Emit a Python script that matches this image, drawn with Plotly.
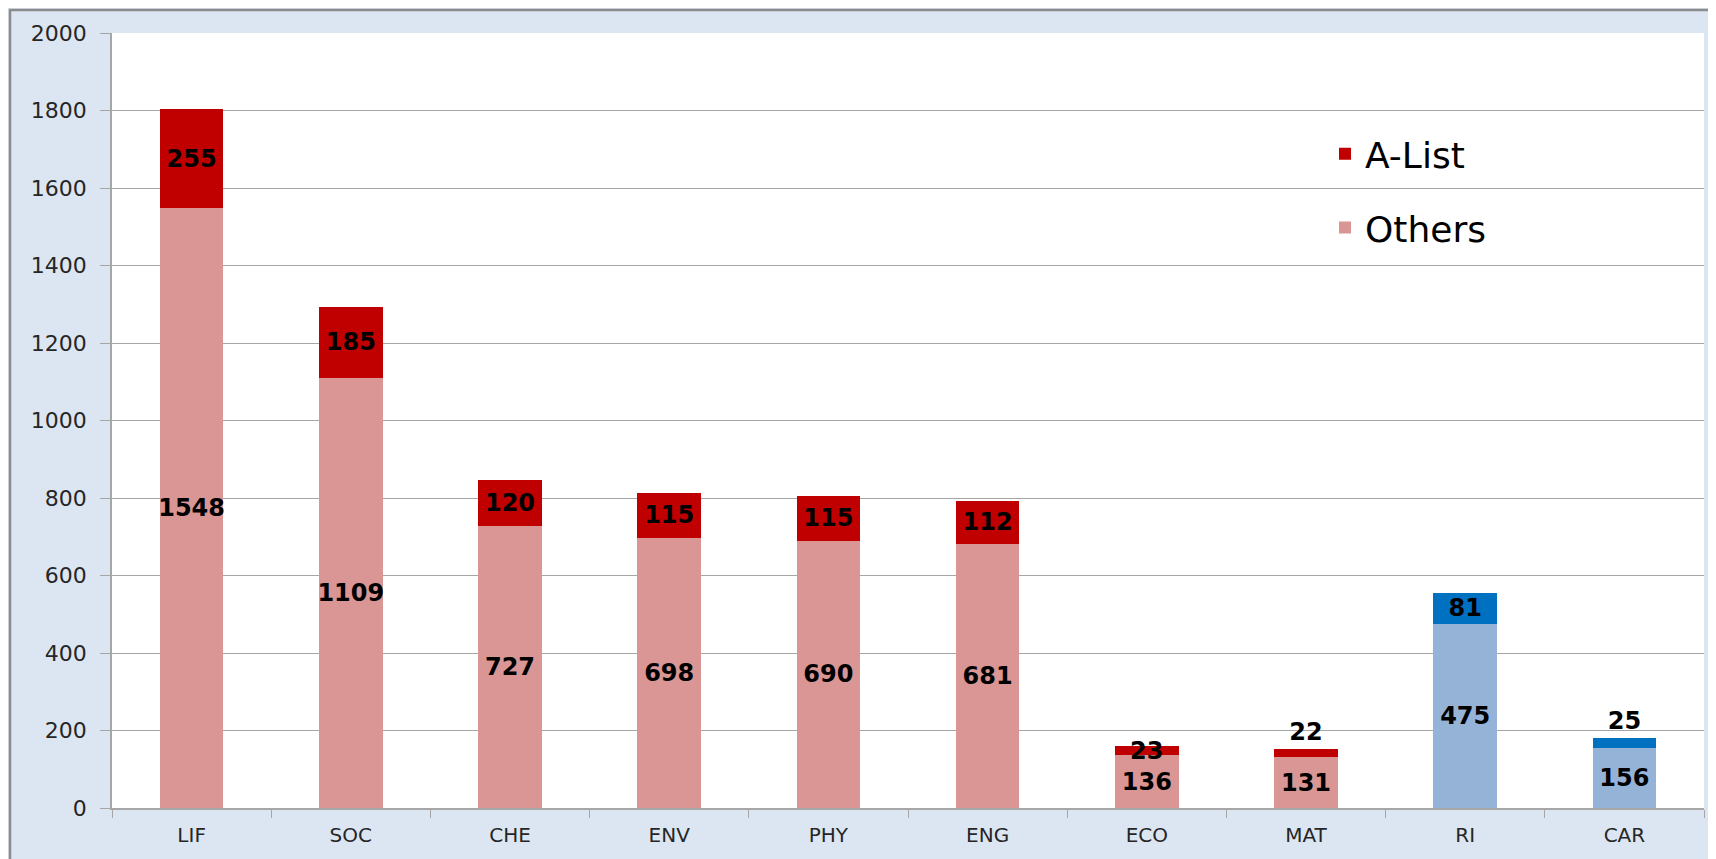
import plotly.graph_objects as go

# categories and the two stacked series
categories = ["LIF", "SOC", "CHE", "ENV", "PHY", "ENG", "ECO", "MAT", "RI", "CAR"]
others = [1548, 1109, 727, 698, 690, 681, 136, 131, 475, 156]
a_list = [255, 185, 120, 115, 115, 112, 23, 22, 81, 25]

# styling: the last two categories are drawn in blue instead of red
RED, PINK = "#C00000", "#D99694"
BLUE, LIGHT_BLUE = "#0070C0", "#95B3D7"
others_colors = [PINK] * 8 + [LIGHT_BLUE] * 2
alist_colors = [RED] * 8 + [BLUE] * 2
alist_textpos = ["inside"] * 7 + ["outside", "inside", "outside"]

# the reference text is wide (stretched), DejaVu Sans is the closest match
FONT = "DejaVu Sans, Verdana, sans-serif"
GRID = "#A6A6A6"
label_font = dict(family=FONT, size=24, color="black", weight="bold")

fig = go.Figure()
fig.add_trace(go.Bar(
    x=categories, y=others, name="Others", legendgroup="o", legendrank=2,
    marker=dict(color=others_colors, line=dict(width=0)),
    text=[str(v) for v in others], textposition="inside",
    insidetextanchor="middle", textangle=0, constraintext="none",
    textfont=label_font, hoverinfo="x+y+name",
))
fig.add_trace(go.Bar(
    x=categories, y=a_list, name="A-List", legendgroup="a", legendrank=1,
    marker=dict(color=alist_colors, line=dict(width=0)),
    text=[str(v) for v in a_list], textposition=alist_textpos,
    insidetextanchor="middle", textangle=0, constraintext="none",
    textfont=label_font, cliponaxis=False, hoverinfo="x+y+name",
))

# page body has an 8px margin, so the figure is 8px smaller and shifted
W, H = 1708, 851
L, R, T, B = 104, 12, 25, 49
pw, ph = W - L - R, H - T - B

fig.update_layout(
    width=W, height=H,
    margin=dict(l=L, r=R, t=T, b=B),
    barmode="stack", bargap=0.6,
    paper_bgcolor="#DCE6F2", plot_bgcolor="white",
    font=dict(family=FONT, color="#262626"),
    legend=dict(
        x=(1317 - L) / pw, y=(ph - (116 - T)) / ph, xanchor="left", yanchor="top",
        traceorder="grouped", tracegroupgap=24,
        font=dict(family=FONT, size=36, color="black"),
        bgcolor="rgba(0,0,0,0)",
    ),
    xaxis=dict(
        showline=True, linecolor=GRID, linewidth=1.5,
        ticks="outside", tickson="boundaries", ticklen=8, tickcolor=GRID,
        tickfont=dict(family=FONT, size=20, color="#262626"),
        ticklabelstandoff=8, showgrid=False,
    ),
    yaxis=dict(
        range=[0, 2000], dtick=200,
        showline=True, linecolor=GRID, linewidth=1.5,
        ticks="outside", ticklen=10, tickcolor=GRID,
        showgrid=True, gridcolor=GRID, gridwidth=1.2,
        tickfont=dict(family=FONT, size=22, color="#262626"),
        ticklabelstandoff=9, zeroline=False,
    ),
    shapes=[dict(
        type="rect", xref="paper", yref="paper",
        x0=(2 - L) / pw, x1=1.05, y0=-0.2, y1=1 + (T - 2) / ph,
        line=dict(color="#8C8C8C", width=2.5), fillcolor="rgba(0,0,0,0)",
        layer="below",
    )],
)

fig.write_html("out.html")
